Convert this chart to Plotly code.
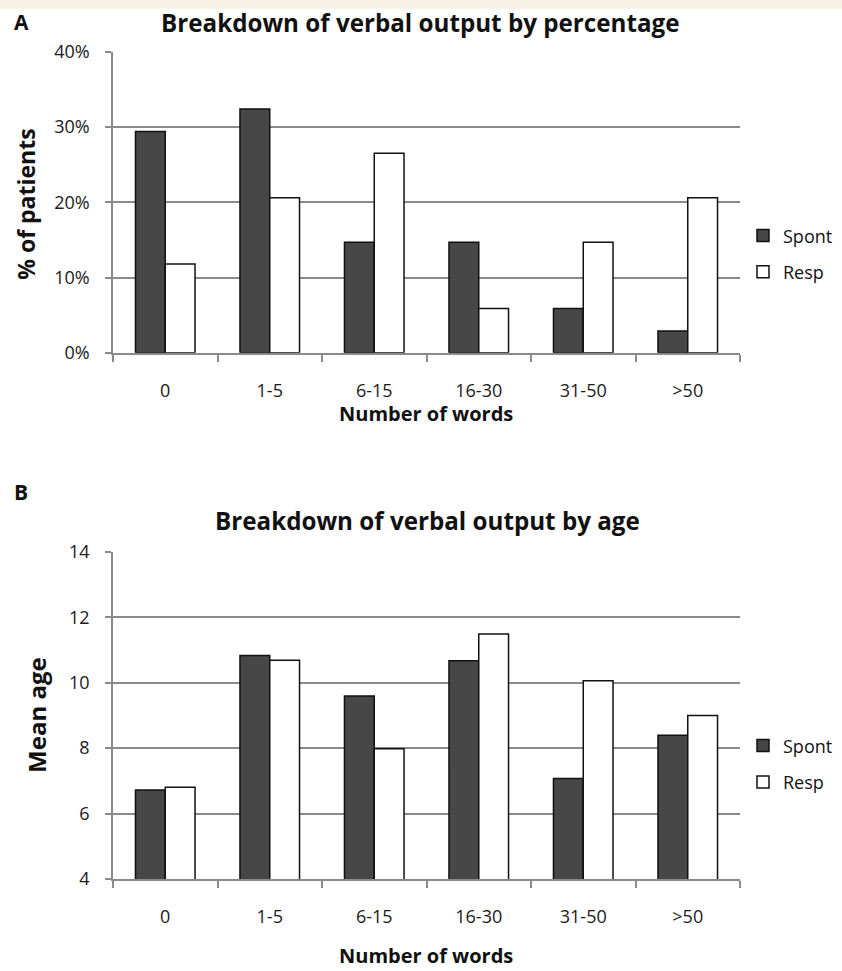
import plotly.graph_objects as go

categories = ["0", "1-5", "6-15", "16-30", "31-50", ">50"]
pct_spont = [29.4, 32.4, 14.7, 14.7, 5.9, 2.9]
pct_resp = [11.8, 20.6, 26.5, 5.9, 14.7, 20.6]
age_spont = [6.72, 10.83, 9.59, 10.67, 7.07, 8.39]
age_resp = [6.80, 10.69, 7.98, 11.49, 10.06, 9.00]
pct_ticks = [0, 10, 20, 30, 40]
age_ticks = [4, 6, 8, 10, 12, 14]

W, H = 842, 971
FONT = "Open Sans"
DARK = "#474747"
GRID = "#8a8a8a"
# empirical vertical correction observed in the rendered screenshot
OFF, SC = 12.3, 0.975

def px(x):
    return x / W

def py(y):
    return 1 - ((y - OFF) / SC) / H

fig = go.Figure()
fig.add_trace(go.Bar(x=categories, y=pct_spont, name="Spont", legendgroup="s1",
                     marker=dict(color=DARK, line=dict(color="#111", width=1.5)),
                     xaxis="x", yaxis="y", legend="legend"))
fig.add_trace(go.Bar(x=categories, y=pct_resp, name="Resp", legendgroup="r1",
                     marker=dict(color="white", line=dict(color="#111", width=1.5)),
                     xaxis="x", yaxis="y", legend="legend"))
fig.add_trace(go.Bar(x=categories, y=age_spont, name="Spont", legendgroup="s2",
                     marker=dict(color=DARK, line=dict(color="#111", width=1.5)),
                     xaxis="x2", yaxis="y2", legend="legend2"))
fig.add_trace(go.Bar(x=categories, y=age_resp, name="Resp", legendgroup="r2",
                     marker=dict(color="white", line=dict(color="#111", width=1.5)),
                     xaxis="x2", yaxis="y2", legend="legend2"))

xcommon = dict(showline=True, linecolor=GRID, linewidth=1.5, ticks="outside", tickson="boundaries",
               ticklen=7, tickcolor=GRID, tickwidth=1.5, showgrid=False,
               tickfont=dict(family=FONT, size=18, color="#1a1a1a"), ticklabelstandoff=21)
ycommon = dict(showline=True, linecolor=GRID, linewidth=1.5, ticks="outside", ticklen=6, tickcolor=GRID,
               tickwidth=1.5, showgrid=True, gridcolor=GRID, gridwidth=1.5, zeroline=False,
               tickfont=dict(family=FONT, size=18, color="#1a1a1a"), ticklabelstandoff=12)

fig.update_layout(
    width=W, height=H,
    margin=dict(l=0, r=0, t=0, b=0),
    paper_bgcolor="white", plot_bgcolor="white",
    barmode="group", bargap=0.43, bargroupgap=0,
    xaxis=dict(domain=[px(113), px(740)], anchor="y", **xcommon),
    yaxis=dict(domain=[py(352), py(51)], anchor="x", range=[0, 40], tickvals=pct_ticks,
               ticktext=[f"{v}%" for v in pct_ticks], **ycommon),
    xaxis2=dict(domain=[px(113), px(740)], anchor="y2", **xcommon),
    yaxis2=dict(domain=[py(878), py(551)], anchor="x2", range=[4, 14], tickvals=age_ticks, **ycommon),
    legend=dict(x=px(743), y=py(253), xanchor="left", yanchor="middle", bgcolor="rgba(0,0,0,0)",
                font=dict(family=FONT, size=18, color="#111"), tracegroupgap=10, itemwidth=30),
    legend2=dict(x=px(743), y=py(763), xanchor="left", yanchor="middle", bgcolor="rgba(0,0,0,0)",
                 font=dict(family=FONT, size=18, color="#111"), tracegroupgap=10, itemwidth=30),
    showlegend=True,
)

fig.add_shape(type="rect", xref="paper", yref="paper", x0=0, x1=1, y0=py(8), y1=1.05,
              fillcolor="#f6f2e6", line=dict(width=0), layer="below")

ann = [
    dict(text="<b>A</b>", x=px(12), y=py(21), font=dict(size=21)),
    dict(text="<b>Breakdown of verbal output by percentage</b>", x=px(420), y=py(22), font=dict(size=24.2)),
    dict(text="<b>% of patients</b>", x=px(26), y=py(204), font=dict(size=23), textangle=-90),
    dict(text="<b>Number of words</b>", x=px(426), y=py(413), font=dict(size=20)),
    dict(text="<b>B</b>", x=px(12), y=py(491), font=dict(size=21)),
    dict(text="<b>Breakdown of verbal output by age</b>", x=px(427), y=py(520), font=dict(size=24.2)),
    dict(text="<b>Mean age</b>", x=px(37), y=py(714), font=dict(size=24), textangle=-90),
    dict(text="<b>Number of words</b>", x=px(426), y=py(955), font=dict(size=20)),
]
for a in ann:
    a.setdefault("xanchor", "left" if a["text"] in ("<b>A</b>", "<b>B</b>") else "center")
    a["font"].update(family=FONT, color="#111")
    fig.add_annotation(xref="paper", yref="paper", yanchor="middle", showarrow=False, **a)

fig.write_html("out.html", config={"displayModeBar": False},
               post_script="document.body.style.margin='0';document.body.style.overflow='hidden';")
